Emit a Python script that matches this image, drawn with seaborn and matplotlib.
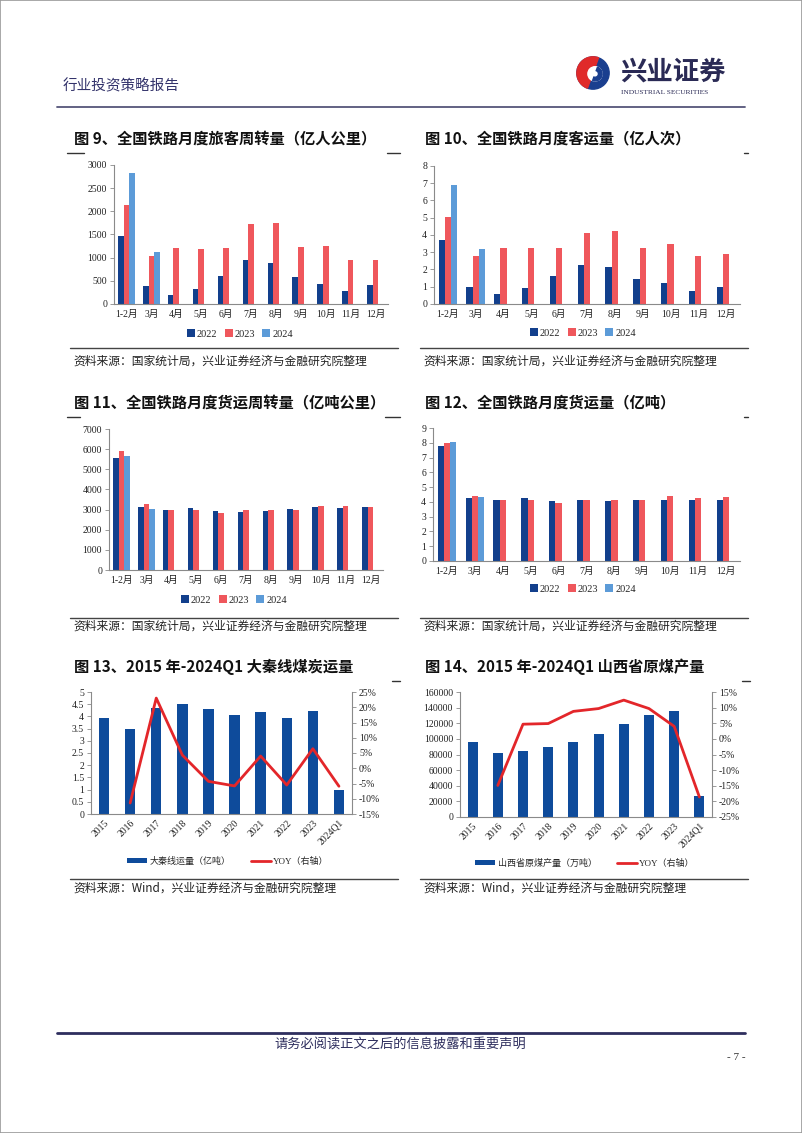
import numpy as np
import pandas as pd
import matplotlib
matplotlib.use("Agg")
import matplotlib.pyplot as plt
import seaborn as sns
from matplotlib.patches import Patch, Circle, Wedge, Rectangle
from matplotlib.lines import Line2D

# ---------------- data ----------------
months = ["1-2月", "3月", "4月", "5月", "6月", "7月", "8月", "9月", "10月", "11月", "12月"]
years3 = ["2022", "2023", "2024"]

pass_turnover_2022 = [1460, 390, 200, 330, 610, 950, 895, 575, 430, 275, 400]
pass_turnover_2023 = [2130, 1035, 1215, 1195, 1205, 1725, 1745, 1235, 1255, 945, 945]
pass_turnover_2024 = [2820, 1125]

pass_volume_2022 = [3.7, 1.0, 0.6, 0.9, 1.65, 2.25, 2.15, 1.45, 1.2, 0.75, 0.98]
pass_volume_2023 = [5.05, 2.8, 3.25, 3.25, 3.25, 4.1, 4.25, 3.25, 3.5, 2.8, 2.9]
pass_volume_2024 = [6.9, 3.2]

freight_turnover_2022 = [5540, 3120, 2970, 3070, 2930, 2900, 2950, 3040, 3110, 3090, 3120]
freight_turnover_2023 = [5900, 3260, 2970, 3000, 2820, 2970, 2970, 3000, 3190, 3170, 3130]
freight_turnover_2024 = [5670, 3040]

freight_volume_2022 = [7.75, 4.25, 4.15, 4.25, 4.05, 4.1, 4.05, 4.15, 4.15, 4.1, 4.15]
freight_volume_2023 = [8.0, 4.4, 4.1, 4.15, 3.95, 4.15, 4.1, 4.15, 4.4, 4.25, 4.35]
freight_volume_2024 = [8.05, 4.35]

coal_years = ["2015", "2016", "2017", "2018", "2019", "2020", "2021", "2022", "2023", "2024Q1"]
daqin_volume = [3.95, 3.5, 4.33, 4.5, 4.3, 4.05, 4.2, 3.95, 4.22, 0.98]
daqin_yoy = [np.nan, -11.4, 23.0, 4.3, -4.3, -5.8, 4.0, -5.5, 6.4, -5.9]
shanxi_output = [96000, 81500, 85000, 89500, 96500, 106500, 119500, 130500, 135500, 27500]
shanxi_yoy = [np.nan, -14.9, 4.7, 4.9, 8.8, 9.7, 12.4, 9.7, 4.0, -18.6]

# ---------------- style ----------------
sns.set_theme(style="white")
plt.rcParams["font.family"] = ["Noto Sans CJK SC", "DejaVu Sans"]
SERIF = ["Liberation Serif", "Noto Sans CJK SC"]

C22 = "#123F8C"
C23 = "#EF575C"
C24 = "#5C9BD8"
CBAR = "#0E4B9B"
CLINE = "#E3262A"
NAVY = "#33336B"
AXC = "#8a8a8a"

W, H = 802, 1133
fig = plt.figure(figsize=(W / 100, H / 100), dpi=100)
fig.patch.set_facecolor("white")


def rect(x0, y0, x1, y1):
    return [x0 / W, 1 - y1 / H, (x1 - x0) / W, (y1 - y0) / H]


def ftext(x, y, s, **kw):
    fig.text(x / W, 1 - y / H, s, **kw)


def hline(x0, x1, y, color="#333333", lw=1.0):
    fig.add_artist(Line2D([x0 / W, x1 / W], [1 - y / H, 1 - y / H],
                          transform=fig.transFigure, color=color, lw=lw))


def style_ax(ax, right=False):
    for s in ["top", "right"]:
        ax.spines[s].set_visible(False)
    for s in ["left", "bottom"]:
        ax.spines[s].set_color(AXC)
        ax.spines[s].set_linewidth(0.8)
    ax.tick_params(axis="y", direction="out", length=3, width=0.6, color=AXC,
                   labelsize=7, pad=2, left=True, labelcolor="#222222")
    ax.tick_params(axis="x", length=0, labelsize=7, pad=4, labelcolor="#222222")
    ax.set_xlabel("")
    ax.set_ylabel("")
    ax.grid(False)


def set_font(ax):
    for lbl in ax.get_xticklabels() + ax.get_yticklabels():
        lbl.set_fontfamily(SERIF)


def monthly_df(a, b, c):
    rows = []
    for yr, vals in zip(years3, [a, b, c]):
        for m, v in zip(months, vals):
            rows.append({"month": m, "year": yr, "value": v})
    return pd.DataFrame(rows)


def month_chart(box, data, ymax, step, legend_xy):
    ax = fig.add_axes(rect(*box))
    sns.barplot(data=data, x="month", y="value", hue="year", order=months,
                hue_order=years3, palette=[C22, C23, C24], width=0.67,
                saturation=1, errorbar=None, legend=False, ax=ax, linewidth=0)
    ax.set_ylim(0, ymax)
    ax.set_yticks(np.arange(0, ymax + step / 2, step))
    ax.set_yticklabels([f"{v:g}" for v in np.arange(0, ymax + step / 2, step)])
    style_ax(ax)
    set_font(ax)
    handles = [Patch(facecolor=c, edgecolor="none") for c in [C22, C23, C24]]
    fig.legend(handles, years3, loc="center", ncol=3,
               bbox_to_anchor=(legend_xy[0] / W, 1 - legend_xy[1] / H),
               bbox_transform=fig.transFigure, frameon=False,
               prop={"family": SERIF, "size": 7.5},
               handlelength=0.75, handleheight=0.75, handletextpad=0.2,
               columnspacing=0.7, borderaxespad=0)
    return ax


def coal_chart(box, bars, yoy, lmax, lstep, rmin, rmax, bar_label, legend_pos, lfmt):
    ax = fig.add_axes(rect(*box))
    sns.barplot(x=coal_years, y=bars, color=CBAR, width=0.4, saturation=1,
                errorbar=None, ax=ax, linewidth=0)
    ax.set_ylim(0, lmax)
    ticks = np.arange(0, lmax + lstep / 2, lstep)
    ax.set_yticks(ticks)
    ax.set_yticklabels([lfmt(v) for v in ticks])
    style_ax(ax)
    ax.tick_params(axis="x", length=0, pad=3)
    ax.set_xticks(range(len(coal_years)))
    ax.set_xticklabels(coal_years, rotation=45, ha="right", rotation_mode="anchor")
    ax2 = ax.twinx()
    sns.lineplot(x=np.arange(len(coal_years)), y=yoy, color=CLINE, lw=2, ax=ax2)
    ax2.set_ylim(rmin, rmax)
    rt = np.arange(rmin, rmax + 1, 5)
    ax2.set_yticks(rt)
    ax2.set_yticklabels([f"{int(v)}%" for v in rt])
    for s in ["top", "left"]:
        ax2.spines[s].set_visible(False)
    ax2.spines["bottom"].set_visible(False)
    ax2.spines["right"].set_color(AXC)
    ax2.spines["right"].set_linewidth(0.8)
    ax2.tick_params(axis="y", direction="out", length=3, width=0.6, color=AXC,
                    labelsize=7, pad=2, right=True, labelcolor="#222222")
    ax2.set_ylabel("")
    ax2.grid(False)
    ax.set_xlim(-0.5, len(coal_years) - 0.5)
    set_font(ax)
    set_font(ax2)
    handles = [Patch(facecolor=CBAR, edgecolor="none"),
               Line2D([0], [0], color=CLINE, lw=2)]
    fig.legend(handles, [bar_label, "YOY（右轴）"], loc="center", ncol=2,
               bbox_to_anchor=(legend_pos[0] / W, 1 - legend_pos[1] / H),
               bbox_transform=fig.transFigure, frameon=False,
               prop={"family": SERIF, "size": 6.5},
               handlelength=2.2, handleheight=0.5, handletextpad=0.3,
               columnspacing=2.2, borderaxespad=0)
    return ax


# ---------------- page decoration ----------------
fig.add_artist(Rectangle((0, 0), 1, 1, transform=fig.transFigure, fill=False,
                         edgecolor="#9a9a9a", lw=1.2))
ftext(63, 86, "行业投资策略报告", fontsize=10.5, color=NAVY, va="center", ha="left")
hline(57, 745, 107, color="#55557a", lw=1.3)

# logo
cx, cy, r = 593 / W, 1 - 73 / H, 14
logo_ax = fig.add_axes(rect(576, 56, 610, 90))
logo_ax.set_xlim(-1, 1)
logo_ax.set_ylim(-1, 1)
logo_ax.set_aspect("equal")
logo_ax.axis("off")
logo_ax.add_patch(Circle((0, 0), 0.95, color="#1A3F8F"))
logo_ax.add_patch(Wedge((0, 0), 0.95, 70, 250, color="#E02A2A"))
logo_ax.add_patch(Circle((0.12, -0.05), 0.42, color="white"))
logo_ax.add_patch(Wedge((0.12, -0.05), 0.42, 250, 70, width=0.22, color="#1A3F8F"))
ftext(620, 72, "兴业证券", fontsize=19, fontweight="bold", color="#2a2a55",
      va="center", ha="left")
ftext(621, 92, "INDUSTRIAL SECURITIES", fontsize=5.3, family=SERIF,
      color="#2a2a55", va="center", ha="left")

hline(57, 745, 1033, color="#2E2E5E", lw=2)
ftext(400, 1045, "请务必阅读正文之后的信息披露和重要声明", fontsize=9.5,
      color="#2E2E5E", va="center", ha="center")
ftext(736, 1058, "- 7 -", fontsize=8, family=SERIF, color="#333333",
      va="center", ha="center")

# ---------------- titles & sources ----------------
title_kw = dict(fontsize=11, fontweight="bold", color="#111111", va="center", ha="left")
ftext(74, 138, "图 9、全国铁路月度旅客周转量（亿人公里）", **title_kw)
ftext(425, 138, "图 10、全国铁路月度客运量（亿人次）", **title_kw)
ftext(74, 402, "图 11、全国铁路月度货运周转量（亿吨公里）", **title_kw)
ftext(425, 402, "图 12、全国铁路月度货运量（亿吨）", **title_kw)
ftext(74, 667, "图 13、2015 年-2024Q1 大秦线煤炭运量", **title_kw)
ftext(425, 667, "图 14、2015 年-2024Q1 山西省原煤产量", **title_kw)

hline(67, 84, 153, lw=1)
hline(387, 400, 153, lw=1)
hline(744, 748, 153, lw=1)
hline(67, 80, 417, lw=1)
hline(385, 400, 417, lw=1)
hline(744, 748, 417, lw=1)
hline(392, 400, 681, lw=1)
hline(742, 750, 681, lw=1)

for y in [348, 618, 879]:
    hline(70, 398, y, color="#444444", lw=1)
    hline(420, 748, y, color="#444444", lw=1)

src_kw = dict(fontsize=8.5, color="#222222", va="center", ha="left")
ftext(73, 361, "资料来源：国家统计局，兴业证券经济与金融研究院整理", **src_kw)
ftext(423, 361, "资料来源：国家统计局，兴业证券经济与金融研究院整理", **src_kw)
ftext(73, 626, "资料来源：国家统计局，兴业证券经济与金融研究院整理", **src_kw)
ftext(423, 626, "资料来源：国家统计局，兴业证券经济与金融研究院整理", **src_kw)
ftext(73, 888, "资料来源：Wind，兴业证券经济与金融研究院整理", **src_kw)
ftext(423, 888, "资料来源：Wind，兴业证券经济与金融研究院整理", **src_kw)

# ---------------- charts ----------------
month_chart((114, 165, 388, 304),
            monthly_df(pass_turnover_2022, pass_turnover_2023, pass_turnover_2024),
            3000, 500, (240, 334))
month_chart((434, 166, 740, 304),
            monthly_df(pass_volume_2022, pass_volume_2023, pass_volume_2024),
            8, 1, (583, 333))
month_chart((109, 429, 383, 570),
            monthly_df(freight_turnover_2022, freight_turnover_2023, freight_turnover_2024),
            7000, 1000, (234, 600))
month_chart((433, 428, 740, 561),
            monthly_df(freight_volume_2022, freight_volume_2023, freight_volume_2024),
            9, 1, (583, 589))

coal_chart((91, 692, 352, 814), daqin_volume, daqin_yoy, 5, 0.5, -15, 25,
           "大秦线运量（亿吨）", (228, 861), lambda v: f"{v:g}")
coal_chart((460, 692, 712, 817), shanxi_output, shanxi_yoy, 160000, 20000, -25, 15,
           "山西省原煤产量（万吨）", (585, 863), lambda v: f"{int(v)}")

fig.savefig("out.png", dpi=100)
